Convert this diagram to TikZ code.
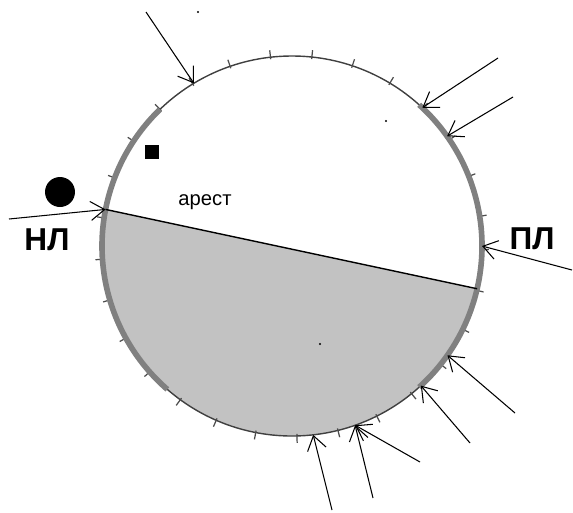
\documentclass[tikz,border=0pt]{standalone}
\usepackage{fontspec}
\setmainfont{Liberation Sans}
\usetikzlibrary{positioning, arrows.meta, calc}

\begin{document}
\begin{tikzpicture}[
        x=0.02cm, y=0.02cm,
        rim/.style={draw=black!75, line width=0.8pt},
        band/.style={draw=black!50, line width=3.2pt},
        segfill/.style={fill=black!24},
        tick/.style={draw=black!70, line width=0.7pt},
        hit/.style={-{Straight Barb[length=2.8mm, width=3.8mm]}, draw=black, line width=0.6pt},
        chord/.style={draw=black, line width=0.8pt},
        biglabel/.style={font=\fontsize{18}{20}\selectfont\bfseries},
        smalllabel/.style={font=\fontsize{11.5}{13}\selectfont},
        speck/.style={circle, fill=black, inner sep=0pt, minimum size=1.2pt}
        ]
        \useasboundingbox (0,0) rectangle (573,512);
        \def\crad{190}
        \coordinate (c) at (292,266);

        % Points on the rim
        \coordinate (nlp) at ($(c)+(168.9:\crad)$);
        \coordinate (plp) at ($(c)+(-13:\crad)$);
        \coordinate (t1) at ($(c)+(121.1:\crad)$);
        \coordinate (t2) at ($(c)+(46.7:\crad)$);
        \coordinate (t3) at ($(c)+(35.3:\crad)$);
        \coordinate (t5) at ($(c)+(0:\crad)$);
        \coordinate (t6) at ($(c)+(-35.1:\crad)$);
        \coordinate (t7) at ($(c)+(-47.3:\crad)$);
        \coordinate (t8) at ($(c)+(-83.6:\crad)$);
        \coordinate (t9) at ($(c)+(-70.6:\crad)$);

        % Lower segment
        \fill[segfill] (nlp) arc[start angle=168.9, end angle=347, radius=\crad] -- cycle;

        % Rim, ticks and thick bands
        \draw[rim] (c) circle[radius=\crad];
        \foreach \a in {9,21.5,...,359} {
            \draw[tick] ($(c)+(\a:\crad-2)$) -- ($(c)+(\a:\crad+7)$);
        }
        \draw[band] ($(c)+(134:\crad)$) arc[start angle=134, end angle=229, radius=\crad];
        \draw[band] ($(c)+(-48:\crad)$) arc[start angle=-48, end angle=48, radius=\crad];
        \draw[chord] (nlp) -- (plp);

        % Free ends of the arrows
        \coordinate (s1) at (146,500);
        \coordinate (s2) at (498,454);
        \coordinate (s3) at (513,415);
        \coordinate (s4) at (9,293);
        \coordinate (s5) at (572,242);
        \coordinate (s6) at (515,99);
        \coordinate (s7) at (470,69);
        \coordinate (s8) at (332,2);
        \coordinate (s9) at (373,14);
        \coordinate (s10) at (420,50);

        % Arrows
        \draw[hit] (s1) -- (t1);
        \draw[hit] (s2) -- (t2);
        \draw[hit] (s3) -- (t3);
        \draw[hit] (s4) -- (nlp);
        \draw[hit] (s5) -- (t5);
        \draw[hit] (s6) -- (t6);
        \draw[hit] (s7) -- (t7);
        \draw[hit] (s8) -- (t8);
        \draw[hit] (s9) -- (t9);
        \draw[hit] (s10) -- (t9);

        % Labels and marks
        \node[biglabel] (nl) at (47,272) {НЛ};
        \node[biglabel] (pl) at (532,273) {ПЛ};
        \node[smalllabel] (arest) at (205,310) {арест};
        \node[circle, fill=black, inner sep=0pt, minimum size=0.6cm] (ball) at (60,320) {};
        \node[rectangle, fill=black, inner sep=0pt, minimum size=0.28cm] (sq) at (152,360) {};

        % Specks
        \node[speck] (d1) at (198,500) {};
        \node[speck] (d2) at (386,391) {};
        \node[speck] (d3) at (320,168) {};

    \end{tikzpicture}
\end{document}
